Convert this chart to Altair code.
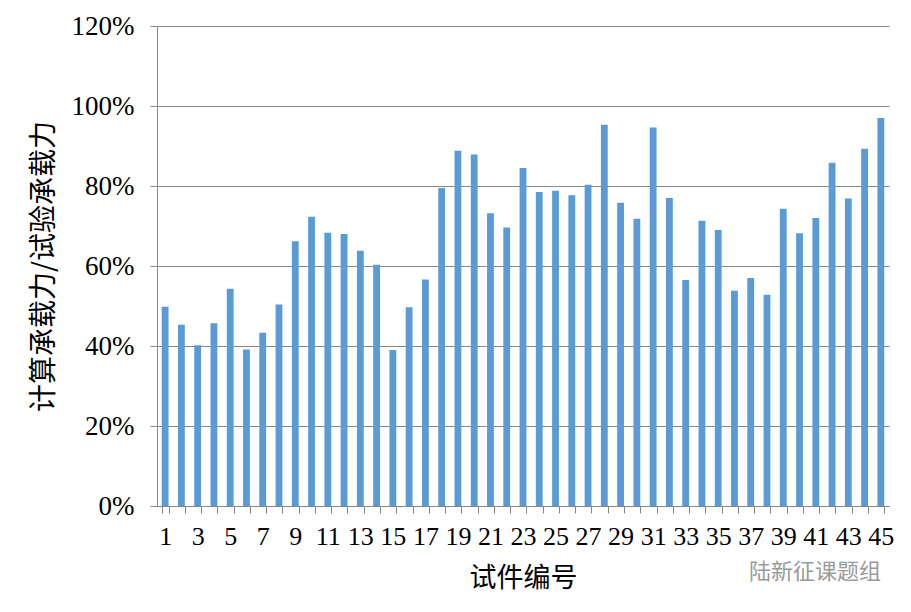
import altair as alt
import pandas as pd

specimens = [str(i) for i in range(1, 46)]
ratios_pct = [49.8, 45.3, 40.2, 45.7, 54.3, 39.1, 43.3, 50.4, 66.2, 72.3,
              68.3, 68.0, 63.8, 60.3, 39.0, 49.7, 56.6, 79.5, 88.8, 87.9,
              73.2, 69.6, 84.5, 78.5, 78.8, 77.7, 80.3, 95.3, 75.8, 71.8,
              94.6, 77.0, 56.5, 71.3, 69.0, 53.8, 57.0, 52.8, 74.3, 68.2,
              72.0, 85.8, 76.9, 89.3, 97.0]
y_ticks = [0, 20, 40, 60, 80, 100, 120]
x_title = "试件编号"
y_title = "计算承载力/试验承载力"
watermark = ["陆新征课题组"]

df = pd.DataFrame({"id": specimens, "ratio": ratios_pct})

serif = "Liberation Serif"
cjk = "Noto Sans CJK SC"

bars = alt.Chart(df).mark_bar(color="#5B9BD5").encode(
    x=alt.X("id:N", sort=specimens,
            scale=alt.Scale(paddingInner=0.58, paddingOuter=0.29),
            axis=alt.Axis(title=x_title, labelAngle=0,
                          labelExpr="parseInt(datum.value) % 2 == 1 ? datum.label : ''",
                          labelFont=serif, labelFontSize=26, labelColor="#000000",
                          labelPadding=10, labelOverlap=False,
                          tickBand="extent", tickSize=7, tickColor="#868686",
                          domainColor="#868686",
                          titleFont=cjk, titleFontSize=27, titleFontWeight="normal",
                          titleColor="#000000", titlePadding=16)),
    y=alt.Y("ratio:Q",
            scale=alt.Scale(domain=[0, 120], nice=False),
            axis=alt.Axis(title=y_title, values=y_ticks,
                          labelExpr="datum.value + '%'",
                          labelFont=serif, labelFontSize=27, labelColor="#000000",
                          labelPadding=16, tickSize=7, tickColor="#868686",
                          domainColor="#868686",
                          grid=True, gridColor="#868686", gridWidth=1,
                          titleFont=cjk, titleFontSize=28, titleFontWeight="normal",
                          titleColor="#000000", titlePadding=13)),
)

wm = alt.Chart(pd.DataFrame({"t": watermark})).mark_text(
    font=cjk, fontSize=22, color="#9a9a9a", align="center", baseline="middle"
).encode(x=alt.value(658), y=alt.value(546), text="t:N")

chart = alt.layer(bars, wm).properties(
    width=732, height=480,
    autosize=alt.AutoSizeParams(type="none"),
    padding={"left": 149, "top": 18, "right": 14, "bottom": 90},
).configure_view(stroke=None)

chart.save("out.html", embed_options={"renderer": "svg", "actions": False})
